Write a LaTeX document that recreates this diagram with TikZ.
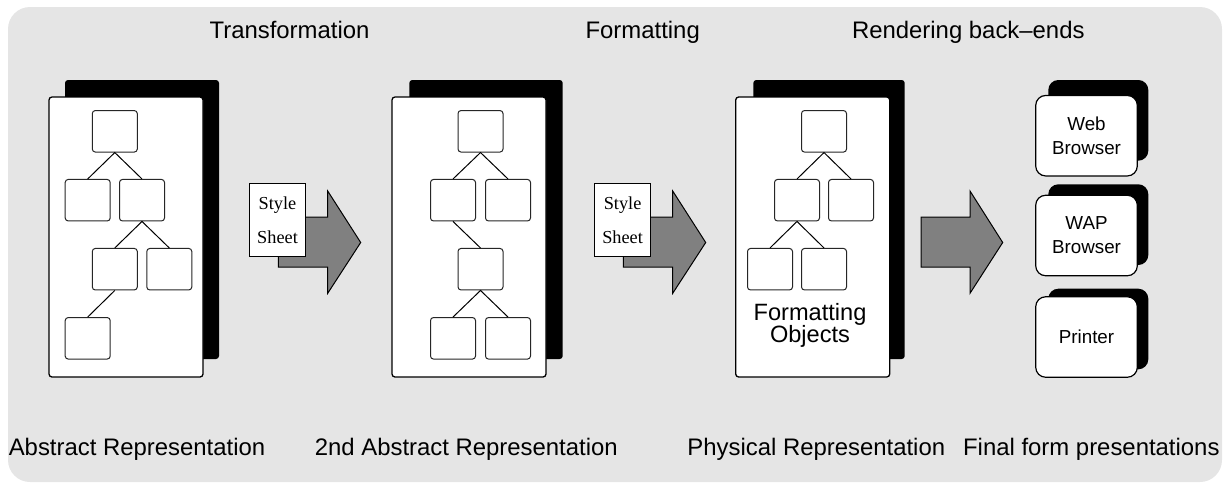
\documentclass[tikz,border=0pt]{standalone}
\usepackage{fontspec}
\setmainfont{Liberation Sans}
\newfontfamily\timesfont{Liberation Serif}
\usetikzlibrary{positioning}

\definecolor{bggray}{RGB}{229,229,229}
\definecolor{arrowgray}{RGB}{128,128,128}

\tikzset{
  page/.style={draw, fill=white, rounded corners=3pt, line width=1.3pt,
    minimum width=154pt, minimum height=280pt, inner sep=0pt},
  pageshadow/.style={fill=black, rounded corners=3pt},
  leaf/.style={draw=black!85, fill=white, rounded corners=3pt, line width=1pt,
    minimum width=45pt, minimum height=41.5pt, inner sep=0pt},
  branch/.style={line width=1pt},
  bigarrow/.style={draw, fill=arrowgray, line width=1pt},
  sheet/.style={draw, fill=white, line width=0.8pt, minimum width=56.4pt,
    minimum height=72.6pt, inner sep=0pt, align=center,
    font=\timesfont\fontsize{18.3pt}{34pt}\selectfont},
  device/.style={draw, fill=white, rounded corners=10pt, line width=1.2pt,
    minimum width=101.6pt, minimum height=80.5pt, inner sep=0pt, align=center,
    font=\fontsize{18.8pt}{24pt}\selectfont},
  label/.style={anchor=base, inner sep=0pt, font=\fontsize{23.9pt}{24pt}\selectfont}
}

\begin{document}
\begin{tikzpicture}[x=1pt, y=-1pt]
  \useasboundingbox (0,0) rectangle (1230,483);
  \fill[bggray, rounded corners=22pt] (8,7) rectangle (1222,482);

  % stage titles
  \node[label] (transform) at (289.5,38) {Transformation};
  \node[label] (format) at (642.7,38) {Formatting};
  \node[label] (render) at (968.3,38) {Rendering back–ends};

  % page shadows
  \fill[pageshadow] (65,80) rectangle (219,359);
  \fill[pageshadow] (409.3,80) rectangle (562.7,359);
  \fill[pageshadow] (753.3,80) rectangle (904.7,359);

  % abstract representation
  \node[page] (absdoc) at (126,237) {};
  \node[leaf] (a1) at (114.8,131.3) {};
  \node[leaf] (a2) at (87.7,200.2) {};
  \node[leaf] (a3) at (142,200.2) {};
  \node[leaf] (a4) at (114.8,269.2) {};
  \node[leaf] (a5) at (169.3,269.2) {};
  \node[leaf] (a6) at (87.7,338.3) {};
  \draw[branch] (a2.north) -- (a1.south) -- (a3.north);
  \draw[branch] (a4.north) -- (a3.south) -- (a5.north);
  \draw[branch] (a4.south) -- (a6.north);

  % 2nd abstract representation
  \node[page] (secdoc) at (469,237) {};
  \node[leaf] (b1) at (480.5,131.3) {};
  \node[leaf] (b2) at (453,200.2) {};
  \node[leaf] (b3) at (508,200.2) {};
  \node[leaf] (b4) at (480.5,269.2) {};
  \node[leaf] (b5) at (453,338.3) {};
  \node[leaf] (b6) at (508,338.3) {};
  \draw[branch] (b2.north) -- (b1.south) -- (b3.north);
  \draw[branch] (b2.south) -- (b4.north);
  \draw[branch] (b5.north) -- (b4.south) -- (b6.north);

  % physical representation
  \node[page] (physdoc) at (812.7,237) {};
  \node[leaf] (c1) at (824,131.3) {};
  \node[leaf] (c2) at (797,200.2) {};
  \node[leaf] (c3) at (851,200.2) {};
  \node[leaf] (c4) at (770,269.2) {};
  \node[leaf] (c5) at (824,269.2) {};
  \draw[branch] (c2.north) -- (c1.south) -- (c3.north);
  \draw[branch] (c4.north) -- (c2.south) -- (c5.north);
  \node[align=center, anchor=base, inner sep=0pt,
    font=\fontsize{23.6pt}{22pt}\selectfont] (fo) at (810,342) {Formatting\\Objects};

  % block arrows with style sheets
  \foreach \dx in {0,345} {
    \draw[bigarrow] (278.3+\dx,217) -- (327.7+\dx,217) -- (327.7+\dx,191)
      -- (360.7+\dx,242.5) -- (327.7+\dx,293.3) -- (327.7+\dx,267)
      -- (278.3+\dx,267) -- cycle;
  }
  \node[sheet] (sheet1) at (277.5,220) {Style\\Sheet};
  \node[sheet] (sheet2) at (622.6,220) {Style\\Sheet};
  \draw[bigarrow] (921,217) -- (970,217) -- (970,191) -- (1002.7,242.5)
    -- (970,293.3) -- (970,267) -- (921,267) -- cycle;

  % final form devices
  \fill[black, rounded corners=10pt] (1048.3,80) rectangle (1148.3,160.7);
  \fill[black, rounded corners=10pt] (1048.3,184.3) rectangle (1148.3,265);
  \fill[black, rounded corners=10pt] (1048.3,288.7) rectangle (1148.3,369.3);
  \node[device] (web) at (1086.5,135.7) {Web\\Browser};
  \node[device] (wap) at (1086.5,235.5) {WAP\\Browser};
  \node[device] (printer) at (1086.5,337) {Printer};

  % representation names
  \node[label] (absname) at (137,455) {Abstract Representation};
  \node[label] (secname) at (466.3,455) {2nd Abstract Representation};
  \node[label] (physname) at (816.3,455) {Physical Representation};
  \node[label] (finalname) at (1091.3,455) {Final form presentations};
\end{tikzpicture}
\end{document}
